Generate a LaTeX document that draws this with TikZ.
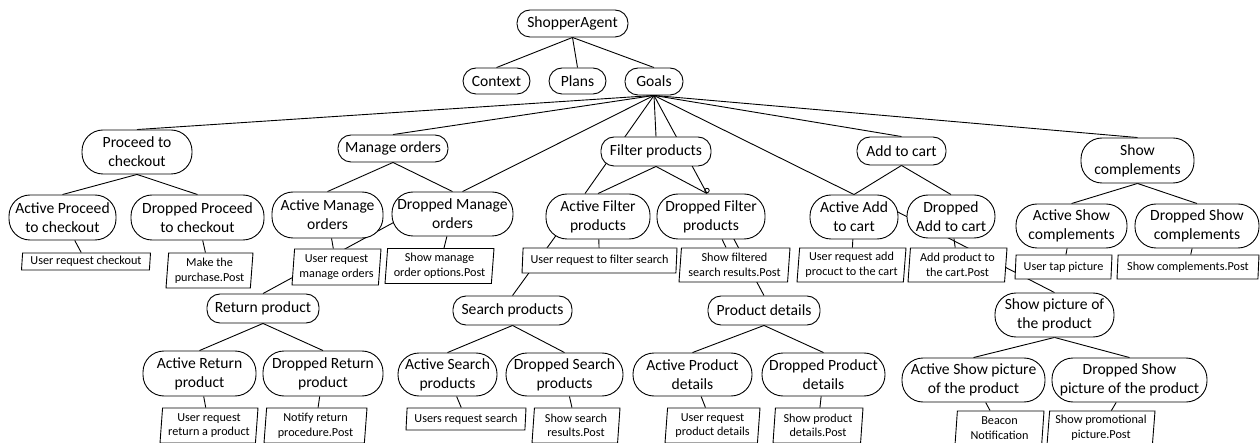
\documentclass[tikz,border=0pt]{standalone}
\usepackage{fontspec}
\setmainfont{Carlito}
\usetikzlibrary{shapes.geometric,backgrounds}
\begin{document}
\begin{tikzpicture}[x=1pt,y=-1pt,
  rn/.style={draw, fill=white, line width=0.9pt, inner sep=0pt, align=center, font=\fontsize{15.6}{19}\selectfont},
  one/.style={rn, rounded corners=13pt, minimum height=27pt},
  two/.style={rn, rounded corners=21pt, minimum height=44pt},
  bx/.style={draw, fill=white, line width=0.9pt, trapezium, trapezium left angle=84, trapezium right angle=96, trapezium stretches body, inner sep=0pt, align=center, font=\fontsize{12.2}{14.6}\selectfont},
  ed/.style={line width=0.9pt}]
\useasboundingbox (0,0) rectangle (1260,443);
% top
\node[one, minimum width=111pt] (sa) at (572.5,23.5) {ShopperAgent};
\node[one, minimum width=67pt, minimum height=26pt] (ctx) at (496.5,81) {Context};
\node[one, minimum width=57pt, minimum height=26pt] (pl) at (577.5,81) {Plans};
\node[one, minimum width=58pt] (go) at (654,81.5) {Goals};
% goals
\node[two, minimum width=110pt] (pc) at (137,152) {Proceed to\\checkout};
\node[one, minimum width=110pt] (mo) at (393,148.5) {Manage orders};
\node[one, minimum width=110pt, minimum height=29pt] (fp) at (656,151.5) {Filter products};
\node[one, minimum width=89pt, minimum height=28pt] (ac) at (901.5,151) {Add to cart};
\node[two, minimum width=113pt, minimum height=45pt] (sc) at (1137.5,160.5) {Show\\complements};
% active / dropped
\node[two, minimum width=107pt, minimum height=45pt] (apc) at (62.5,217.5) {Active Proceed\\to checkout};
\node[two, minimum width=133pt, minimum height=45pt] (dpc) at (197.5,217.5) {Dropped Proceed\\to checkout};
\node[two, minimum width=111pt, minimum height=46pt] (amo) at (327.5,215) {Active Manage\\orders};
\node[two, minimum width=121pt] (dmo) at (452.5,214) {Dropped Manage\\orders};
\node[two, minimum width=104pt, minimum height=45pt] (afp) at (598,216.5) {Active Filter\\products};
\node[two, minimum width=108pt, minimum height=45pt] (dfp) at (711,216.5) {Dropped Filter\\products};
\node[two, minimum width=88pt] (aac) at (854,217) {Active Add\\to cart};
\node[two, minimum width=88pt, minimum height=43pt] (dac) at (951,216.5) {Dropped\\Add to cart};
\node[two, minimum width=111pt] (asc) at (1071.5,226) {Active Show\\complements};
\node[two, minimum width=124pt] (dsc) at (1197,226) {Dropped Show\\complements};
% boxes row 4
\node[bx, minimum width=129pt, minimum height=17pt] (b1) at (86,261.5) {User request checkout};
\node[bx, minimum width=87pt, minimum height=35pt] (b2) at (209.5,270.5) {Make the\\purchase.Post};
\node[bx, minimum width=89pt, minimum height=36pt] (b3) at (336.5,267) {User request\\manage orders};
\node[bx, minimum width=109pt, minimum height=35pt] (b4) at (439.5,266) {Show manage\\order options.Post};
\node[bx, minimum width=155pt, minimum height=25pt] (b5) at (599.5,260.5) {User request to filter search};
\node[bx, minimum width=111pt, minimum height=34pt] (b6) at (734.5,265) {Show filtered\\search results.Post};
\node[bx, minimum width=109pt, minimum height=34pt] (b7) at (851.5,265) {User request add\\procuct to the cart};
\node[bx, minimum width=99pt, minimum height=34pt] (b8) at (957.5,265) {Add product to\\the cart.Post};
\node[bx, minimum width=97pt, minimum height=24pt] (b9) at (1063.5,267) {User tap picture};
\node[bx, minimum width=142pt, minimum height=24pt] (b10) at (1188,267) {Show complements.Post};
% row 5
\node[one, minimum width=112pt, minimum height=29pt] (rp) at (263,308.5) {Return product};
\node[one, minimum width=119pt, minimum height=29pt] (sp) at (512.5,310.5) {Search products};
\node[one, minimum width=112pt, minimum height=29pt] (pd) at (764,310.5) {Product details};
\node[two, minimum width=119pt] (sh) at (1054.5,315) {Show picture of\\the product};
% row 6
\node[two, minimum width=113pt, minimum height=45pt] (arp) at (199.5,373.5) {Active Return\\product};
\node[two, minimum width=120pt, minimum height=45pt] (drp) at (323,373.5) {Dropped Return\\product};
\node[two, minimum width=99pt, minimum height=43pt] (asp) at (447.5,374.5) {Active Search\\products};
\node[two, minimum width=117pt, minimum height=43pt] (dsp) at (564.5,374.5) {Dropped Search\\products};
\node[two, minimum width=119pt, minimum height=43pt] (apd) at (692.5,374.5) {Active Product\\details};
\node[two, minimum width=123pt, minimum height=43pt] (dpd) at (823.5,374.5) {Dropped Product\\details};
\node[two, minimum width=143pt] (ash) at (973.5,380) {Active Show picture\\of the product};
\node[two, minimum width=155pt] (dsh) at (1129.5,380) {Dropped Show\\picture of the product};
% row 7
\node[bx, minimum width=98pt, minimum height=35pt] (c1) at (209,425.5) {User request\\return a product};
\node[bx, minimum width=103pt, minimum height=35pt] (c2) at (315.5,425.5) {Notify return\\procedure.Post};
\node[bx, minimum width=120pt, minimum height=22pt] (c3) at (466,419) {Users request search};
\node[bx, minimum width=88pt, minimum height=35pt] (c4) at (576,425.5) {Show search\\results.Post};
\node[bx, minimum width=95pt, minimum height=35pt] (c5) at (712.5,425.5) {User request\\product details};
\node[bx, minimum width=90pt, minimum height=35pt] (c6) at (818,425.5) {Show product\\details.Post};
\node[bx, minimum width=89pt, minimum height=34pt] (c7) at (999.5,428) {Beacon\\Notification};
\node[bx, minimum width=108pt, minimum height=34pt] (c8) at (1101,428) {Show promotional\\picture.Post};
% small circle
\draw[ed] (707,190.5) circle (2.2pt);
\begin{scope}[on background layer]
\foreach \c in {ctx,pl,go} \draw[ed] (sa.south) -- (\c.north);
\foreach \c in {pc,mo,fp,aac,ac,sc} \draw[ed] (go.south) -- (\c.north);
\draw[ed] (go.south) -- ([shift={(10,0)}]dmo.north);
\draw[ed] (go.south) -- ([shift={(-13,0)}]afp.north);
\draw[ed] (go.south) -- ([shift={(-4,0)}]dfp.north);
\draw[ed] (pc.south) -- (apc.north); \draw[ed] (pc.south) -- (dpc.north);
\draw[ed] (mo.south) -- (amo.north); \draw[ed] (mo.south) -- (dmo.north);
\draw[ed] (fp.south) -- (afp.north); \draw[ed] (fp.south) -- ([shift={(-4,0)}]dfp.north);
\draw[ed] (ac.south) -- (aac.north); \draw[ed] (ac.south) -- (dac.north);
\draw[ed] (sc.south) -- (asc.north); \draw[ed] (sc.south) -- (dsc.north);
\draw[ed] (rp.south) -- (arp.north); \draw[ed] (rp.south) -- (drp.north);
\draw[ed] (sp.south) -- (asp.north); \draw[ed] (sp.south) -- (dsp.north);
\draw[ed] (pd.south) -- (apd.north); \draw[ed] (pd.south) -- (dpd.north);
\draw[ed] (sh.south) -- (ash.north); \draw[ed] (sh.south) -- (dsh.north);
\draw[ed] (apc) -- (b1); \draw[ed] (dpc) -- (b2);
\draw[ed] (amo) -- (b3); \draw[ed] (dmo) -- (b4);
\draw[ed] (afp) -- (b5); \draw[ed] (dfp) -- (b6);
\draw[ed] (aac) -- (b7); \draw[ed] (dac) -- (b8);
\draw[ed] (asc) -- (b9); \draw[ed] (dsc) -- (b10);
\draw[ed] (arp) -- (c1); \draw[ed] (drp) -- (c2);
\draw[ed] (asp) -- (c3); \draw[ed] (dsp) -- (c4);
\draw[ed] (apd) -- (c5); \draw[ed] (dpd) -- (c6);
\draw[ed] (ash) -- (c7); \draw[ed] (dsh) -- (c8);
% cross links
\draw[ed] (rp.north) -- ([shift={(-52.5,5)}]dmo.center);
\draw[ed] (sp.north) -- ([shift={(-38,13.5)}]afp.center);
\draw[ed] (pd.north) -- ([shift={(17,11.5)}]dfp.center);
\draw[ed] (sh.north) -- ([shift={(36,-9)}]aac.center);
\end{scope}
\end{tikzpicture}
\end{document}
